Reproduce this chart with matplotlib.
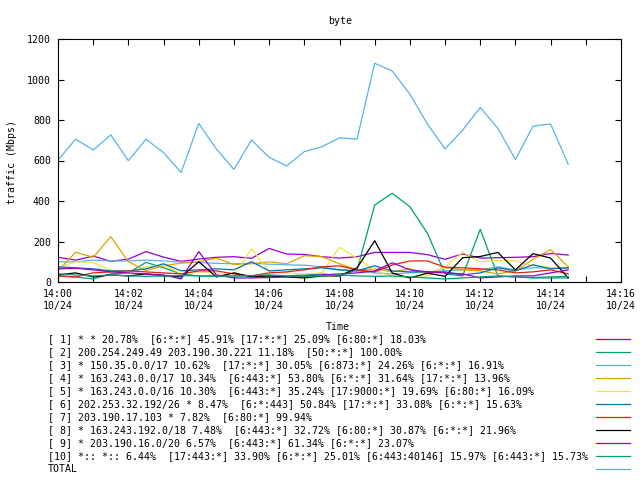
import numpy as np
import matplotlib
matplotlib.use("Agg")
import matplotlib.pyplot as plt
from matplotlib.lines import Line2D

# sample times, minutes after 14:00 (every 30 s)
minutes = np.arange(30) * 0.5

s1 = [122, 108, 128, 102, 113, 150, 123, 102, 113, 122, 125, 117, 166, 138, 136, 125,
      118, 125, 146, 146, 146, 135, 112, 139, 118, 120, 122, 125, 141, 133]
s2 = [30, 25, 15, 40, 45, 97, 70, 40, 30, 30, 30, 30, 30, 30, 35, 40,
      30, 60, 380, 438, 372, 240, 40, 30, 260, 30, 25, 20, 20, 20]
s3 = [100, 100, 108, 104, 104, 108, 104, 98, 96, 92, 90, 92, 88, 85, 83, 75,
      60, 55, 45, 40, 45, 50, 55, 60, 60, 75, 60, 70, 70, 70]
s4 = [55, 147, 122, 224, 100, 57, 80, 93, 100, 118, 86, 90, 100, 90, 130, 125,
      90, 60, 65, 50, 65, 40, 71, 60, 55, 40, 55, 112, 160, 75]
s5 = [70, 100, 95, 60, 45, 75, 85, 40, 50, 45, 30, 165, 50, 45, 40, 45,
      171, 117, 60, 25, 25, 30, 75, 147, 100, 106, 105, 80, 72, 63]
s6 = [75, 70, 65, 55, 55, 65, 90, 55, 60, 65, 60, 100, 55, 60, 65, 70,
      60, 55, 80, 55, 50, 50, 50, 35, 45, 70, 55, 85, 65, 70]
s7 = [30, 25, 45, 50, 55, 50, 45, 40, 55, 55, 40, 30, 45, 50, 60, 75,
      80, 60, 50, 84, 104, 104, 73, 70, 65, 60, 45, 50, 60, 40]
s8 = [35, 45, 25, 35, 30, 40, 30, 25, 100, 25, 45, 25, 30, 25, 20, 30,
      30, 70, 204, 44, 20, 44, 28, 120, 126, 146, 60, 140, 118, 20]
s9 = [65, 68, 60, 50, 45, 40, 35, 15, 150, 35, 20, 20, 22, 25, 30, 35,
      40, 45, 55, 95, 60, 50, 45, 40, 20, 25, 30, 30, 45, 60]
s10 = [40, 35, 30, 35, 30, 28, 30, 32, 30, 28, 30, 32, 35, 30, 28, 30,
       35, 30, 28, 30, 25, 20, 15, 20, 25, 30, 25, 22, 25, 28]
total = [602, 705, 652, 726, 599, 705, 639, 541, 783, 657, 556, 701, 616, 573, 644, 668,
         712, 706, 1080, 1042, 928, 780, 657, 750, 862, 759, 605, 770, 780, 581]

series = [s1, s2, s3, s4, s5, s6, s7, s8, s9, s10, total]
colors = ["#9400d3", "#009e73", "#56b4e9", "#e69f00", "#f0e442", "#0072b2",
          "#e51e10", "#000000", "#9400d3", "#009e73", "#56b4e9"]
labels = [
    "[ 1] * * 20.78%  [6:*:*] 45.91% [17:*:*] 25.09% [6:80:*] 18.03%",
    "[ 2] 200.254.249.49 203.190.30.221 11.18%  [50:*:*] 100.00%",
    "[ 3] * 150.35.0.0/17 10.62%  [17:*:*] 30.05% [6:873:*] 24.26% [6:*:*] 16.91%",
    "[ 4] * 163.243.0.0/17 10.34%  [6:443:*] 53.80% [6:*:*] 31.64% [17:*:*] 13.96%",
    "[ 5] * 163.243.0.0/16 10.30%  [6:443:*] 35.24% [17:9000:*] 19.69% [6:80:*] 16.09%",
    "[ 6] 202.253.32.192/26 * 8.47%  [6:*:443] 50.84% [17:*:*] 33.08% [6:*:*] 15.63%",
    "[ 7] 203.190.17.103 * 7.82%  [6:80:*] 99.94%",
    "[ 8] * 163.243.192.0/18 7.48%  [6:443:*] 32.72% [6:80:*] 30.87% [6:*:*] 21.96%",
    "[ 9] * 203.190.16.0/20 6.57%  [6:443:*] 61.34% [6:*:*] 23.07%",
    "[10] *:: *:: 6.44%  [17:443:*] 33.90% [6:*:*] 25.01% [6:443:40146] 15.97% [6:443:*] 15.73%",
    "TOTAL",
]

plt.rcParams['font.family'] = 'DejaVu Sans Mono'
plt.rcParams['font.size'] = 7.15

W, H = 640, 480
fig = plt.figure(figsize=(6.4, 4.8), dpi=100)
ax = fig.add_axes([58 / W, 1 - 282 / H, (621 - 58) / W, (282 - 39) / H])

for ys, c in zip(series, colors):
    ax.plot(minutes, ys, color=c, lw=0.9)

ax.set_xlim(0, 16)
ax.set_ylim(0, 1200)
ax.set_xticks(range(17))
ax.set_xticklabels(["14:%02d\n10/24" % m if m % 2 == 0 else "" for m in range(17)],
                   linespacing=1.3)
ax.set_yticks(range(0, 1201, 200))
ax.tick_params(direction='in', length=4, width=0.8, top=True, right=True, pad=5)
for sp_ in ax.spines.values():
    sp_.set_linewidth(0.8)

fig.text(340 / W, 1 - 21 / H, "byte", ha='center', va='center')
fig.text(12 / W, 1 - 162 / H, "traffic (Mbps)", rotation=90, ha='center', va='center')
fig.text(338 / W, 1 - 327 / H, "Time", ha='center', va='center')

# legend rows, gnuplot style: text left, sample line at right
for i, (lab, c) in enumerate(zip(labels, colors)):
    y = 1 - (339 + 13 * i) / H
    fig.text(48 / W, y, lab, ha='left', va='center')
    fig.add_artist(Line2D([596 / W, 630 / W], [y, y], color=c, lw=0.9,
                          transform=fig.transFigure))

fig.savefig("out.png", dpi=100)
